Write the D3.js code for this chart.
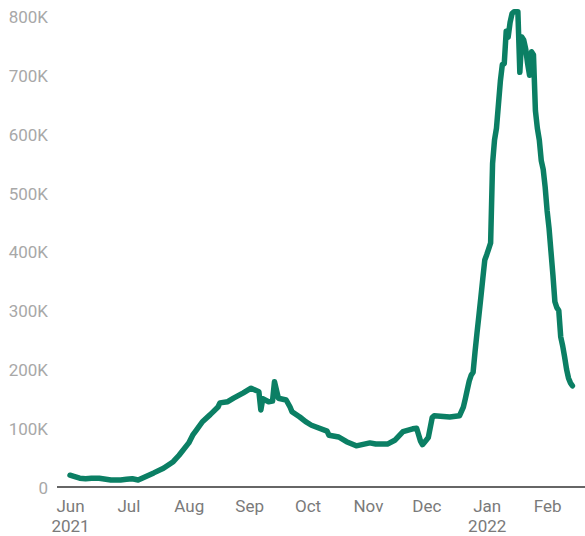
<!DOCTYPE html>
<html>
<head>
<meta charset="utf-8">
<script src="https://cdn.jsdelivr.net/npm/d3@7"></script>
<style>
  html, body { margin: 0; padding: 0; background: #fff; }
  svg text { font-family: Roboto, "Noto Sans", sans-serif; }
</style>
</head>
<body>
<svg id="chart" width="585" height="536"></svg>
<script>
// ---- data ----
const dates = [
  "2021-06-01","2021-06-03","2021-06-06","2021-06-09","2021-06-12","2021-06-16","2021-06-22","2021-06-27","2021-06-30",
  "2021-07-03","2021-07-06","2021-07-08","2021-07-14","2021-07-19","2021-07-24","2021-07-27",
  "2021-08-01","2021-08-03","2021-08-05","2021-08-08","2021-08-12","2021-08-16","2021-08-17","2021-08-21","2021-08-24","2021-08-29",
  "2021-09-02","2021-09-06","2021-09-07","2021-09-08","2021-09-11","2021-09-13","2021-09-14","2021-09-16","2021-09-20","2021-09-22","2021-09-23","2021-09-27","2021-09-30",
  "2021-10-03","2021-10-11","2021-10-12","2021-10-17","2021-10-21","2021-10-26",
  "2021-11-02","2021-11-05","2021-11-11","2021-11-15","2021-11-19","2021-11-24","2021-11-26","2021-11-28","2021-11-29",
  "2021-12-01","2021-12-02","2021-12-04","2021-12-05","2021-12-13","2021-12-18","2021-12-20","2021-12-21","2021-12-22","2021-12-23","2021-12-24","2021-12-25","2021-12-26","2021-12-27","2021-12-28","2021-12-29","2021-12-30","2021-12-31",
  "2022-01-01","2022-01-02","2022-01-03","2022-01-04","2022-01-05","2022-01-06","2022-01-07","2022-01-08","2022-01-09","2022-01-10","2022-01-11","2022-01-12","2022-01-13","2022-01-14","2022-01-15","2022-01-16","2022-01-17","2022-01-18","2022-01-19","2022-01-20","2022-01-21","2022-01-22","2022-01-23","2022-01-24","2022-01-25","2022-01-26","2022-01-27","2022-01-28","2022-01-29","2022-01-30","2022-01-31",
  "2022-02-01","2022-02-02","2022-02-03","2022-02-04","2022-02-05","2022-02-06","2022-02-07","2022-02-08","2022-02-09","2022-02-10","2022-02-11","2022-02-12","2022-02-13","2022-02-14"
];
const cases = [
  20000,18000,15000,14000,15000,15000,12000,12000,13000,
  14000,12000,15000,24000,32000,43000,54000,
  75000,88000,97000,111000,123000,136000,143000,145000,151000,160000,
  168000,162000,131000,150000,145000,146000,179000,151000,148000,136000,128000,119000,111000,
  105000,95000,88000,85000,77000,70000,
  75000,73000,73000,80000,94000,99000,100000,78000,72000,
  80000,84000,118000,121000,119000,121000,136000,150000,165000,180000,190000,195000,230000,262000,292000,323000,355000,386000,
  395000,405000,415000,550000,590000,610000,650000,690000,718000,720000,775000,765000,790000,805000,808000,808000,808000,705000,765000,760000,745000,720000,700000,740000,735000,640000,610000,590000,555000,540000,510000,
  470000,440000,400000,360000,315000,305000,300000,255000,240000,221000,200000,185000,177000,172000
];
const yTicks = [0, 100000, 200000, 300000, 400000, 500000, 600000, 700000, 800000];
const monthTicks = ["2021-06-01","2021-07-01","2021-08-01","2021-09-01","2021-10-01","2021-11-01","2021-12-01","2022-01-01","2022-02-01"];
const monthLabels = ["Jun","Jul","Aug","Sep","Oct","Nov","Dec","Jan","Feb"];
const yearLabels = ["2021","","","","","","","2022",""];

// ---- chart ----
const parse = d3.utcParse("%Y-%m-%d");
const data = dates.map((d, i) => ({ date: parse(d), value: cases[i] }));
const svg = d3.select("#chart");

const x = d3.scaleUtc()
  .domain([parse("2021-06-01"), parse("2022-02-01")])
  .range([70, 547.1]);
const y = d3.scaleLinear()
  .domain([0, 800000])
  .range([487, 16.5]);

// y axis labels
const yAxis = d3.axisLeft(y)
  .tickValues(yTicks)
  .tickSize(0)
  .tickPadding(0)
  .tickFormat(v => v === 0 ? "0" : (v / 1000) + "K");
const gy = svg.append("g").attr("transform", "translate(48,0)").call(yAxis);
gy.select(".domain").remove();
gy.selectAll("text")
  .attr("fill", "#a8a8a8")
  .attr("font-size", 17)
  .attr("font-family", "Roboto, sans-serif")
  .attr("dy", "0.36em");

// x axis labels
const xAxis = d3.axisBottom(x)
  .tickValues(monthTicks.map(parse))
  .tickSize(0)
  .tickPadding(0)
  .tickFormat((d, i) => monthLabels[i]);
const gx = svg.append("g").attr("transform", "translate(0,499)").call(xAxis);
gx.select(".domain").remove();
gx.selectAll(".tick text")
  .attr("fill", "#7a7a7a")
  .attr("font-size", 17)
  .attr("font-family", "Roboto, sans-serif")
  .attr("dy", "0.77em");
gx.selectAll(".tick").each(function(d, i) {
  if (yearLabels[i]) {
    d3.select(this).append("text")
      .attr("fill", "#7a7a7a")
      .attr("font-size", 17)
      .attr("font-family", "Roboto, sans-serif")
      .attr("text-anchor", "middle")
      .attr("y", 20)
      .attr("dy", "0.77em")
      .text(yearLabels[i]);
  }
});

// baseline
svg.append("line")
  .attr("x1", 57).attr("x2", 585)
  .attr("y1", y(0)).attr("y2", y(0))
  .attr("stroke", "#333")
  .attr("stroke-width", 1.5);

// line
const line = d3.line()
  .x(d => x(d.date))
  .y(d => y(d.value));
svg.append("path")
  .datum(data)
  .attr("fill", "none")
  .attr("stroke", "#0b7f64")
  .attr("stroke-width", 5.5)
  .attr("stroke-linejoin", "round")
  .attr("stroke-linecap", "round")
  .attr("d", line);
</script>
</body>
</html>
